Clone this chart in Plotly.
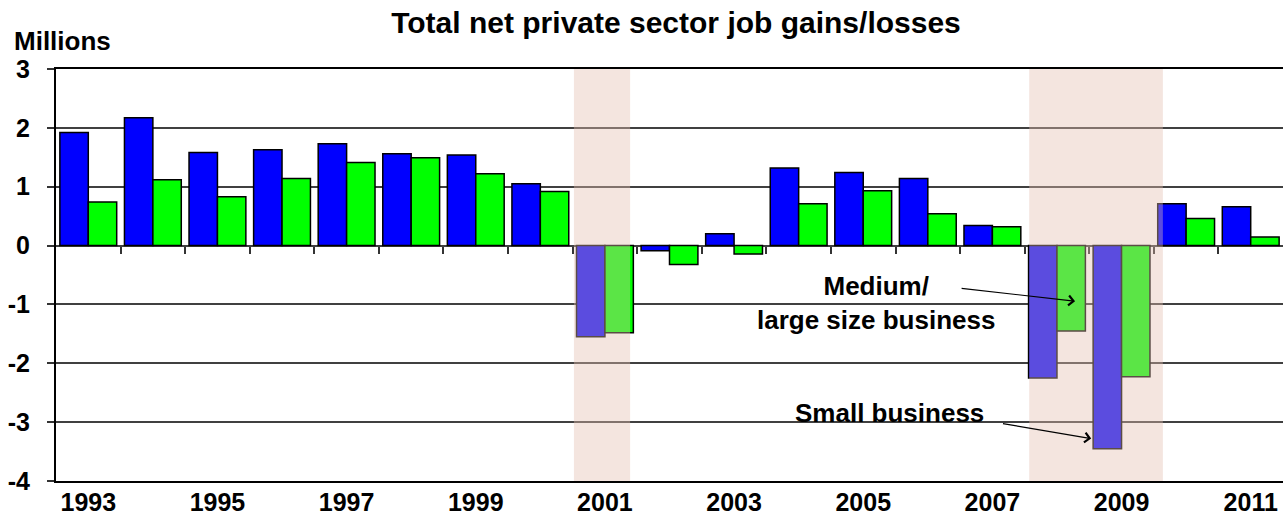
import plotly.graph_objects as go

# Net private sector job gains/losses, millions
years = list(range(1993, 2012))
small_business = [1.92, 2.17, 1.58, 1.63, 1.73, 1.56, 1.54, 1.05, -1.55, -0.09,
                  0.20, 1.32, 1.24, 1.14, 0.34, -2.25, -3.45, 0.71, 0.66]
medium_large = [0.74, 1.12, 0.83, 1.14, 1.41, 1.49, 1.22, 0.92, -1.48, -0.32,
                -0.145, 0.71, 0.93, 0.54, 0.32, -1.45, -2.23, 0.46, 0.145]

# Recession bands, in category-index units
recessions = [(7.52, 8.39), (14.57, 16.64)]

tick_years = [y for y in years if (y - 1993) % 2 == 0]
y_ticks = list(range(-4, 4))
y_ticktext = [str(v) for v in y_ticks]  # plain hyphen for negatives

FONT = "Liberation Sans, Arial, sans-serif"
idx = list(range(len(years)))

fig = go.Figure()
fig.add_trace(go.Bar(
    x=idx, y=small_business, name="Small business",
    marker=dict(color="#0000ff", line=dict(color="#000000", width=1.5)),
))
fig.add_trace(go.Bar(
    x=idx, y=medium_large, name="Medium/large size business",
    marker=dict(color="#00ff00", line=dict(color="#000000", width=1.5)),
))
# helper trace so the zero-line tick axis is drawn
fig.add_trace(go.Scatter(x=[0], y=[0], xaxis="x2", mode="markers",
                         marker=dict(opacity=0), hoverinfo="skip", showlegend=False))

for x0, x1 in recessions:
    fig.add_shape(type="rect", xref="x", yref="y", x0=x0, x1=x1, y0=-4, y1=3,
                  fillcolor="rgb(228,190,175)", opacity=0.4, line=dict(width=0),
                  layer="above")

ann_font = dict(family=FONT, size=26, color="#000000", weight="bold")
fig.add_annotation(x=12.2, y=-0.98, xref="x", yref="y", showarrow=False,
                   text="Medium/<br>large size business", font=ann_font, align="center")
fig.add_annotation(x=12.4, y=-2.84, xref="x", yref="y", showarrow=False,
                   text="Small business", font=ann_font)
fig.add_annotation(x=15.28, y=-0.945, ax=13.5, ay=-0.724, xref="x", yref="y",
                   axref="x", ayref="y", text="", showarrow=True, arrowhead=4,
                   arrowsize=1.6, arrowwidth=1.2, arrowcolor="#000000")
fig.add_annotation(x=15.53, y=-3.28, ax=14.14, ay=-3.02, xref="x", yref="y",
                   axref="x", ayref="y", text="", showarrow=True, arrowhead=4,
                   arrowsize=1.6, arrowwidth=1.2, arrowcolor="#000000")
fig.add_annotation(x=-0.036, y=1.068, xref="paper", yref="paper", showarrow=False,
                   text="Millions", font=dict(family=FONT, size=26, color="#000000", weight="bold"),
                   xanchor="left", yanchor="middle")

fig.update_layout(
    width=1283, height=519,
    margin=dict(l=56, r=0, t=69, b=38),
    paper_bgcolor="#ffffff", plot_bgcolor="#ffffff",
    barmode="group", bargap=0.12, bargroupgap=0,
    showlegend=False,
    font=dict(family=FONT, color="#000000"),
    title=dict(text="Total net private sector job gains/losses",
               font=dict(family=FONT, size=30, color="#000000", weight="bold"),
               x=676 / 1283, xanchor="center", y=1 - 22 / 519, yanchor="middle",
               xref="container", yref="container"),
    xaxis=dict(
        range=[-0.5, len(years) - 0.5],
        tickmode="array",
        tickvals=[y - 1993 for y in tick_years],
        ticktext=[str(y) for y in tick_years],
        ticks="", showgrid=False, zeroline=False,
        showline=True, linecolor="#000000", linewidth=2, mirror=True,
        tickfont=dict(family=FONT, size=25, color="#000000", weight="bold"),
        ticklabelstandoff=-2,
        automargin=False,
    ),
    xaxis2=dict(
        overlaying="x", anchor="free", position=4 / 7, side="bottom",
        range=[-0.5, len(years) - 0.5],
        tickmode="array",
        tickvals=[k + 0.5 for k in range(len(years) - 1)],
        ticks="outside", ticklen=7, tickwidth=1.5, tickcolor="#333333",
        showticklabels=False, showgrid=False, zeroline=False, showline=False,
    ),
    yaxis=dict(
        range=[-4, 3], tickmode="array", tickvals=y_ticks, ticktext=y_ticktext,
        ticks="outside", ticklen=7, tickwidth=1.5, tickcolor="#333333",
        showgrid=True, gridcolor="#404040", gridwidth=1.5,
        zeroline=True, zerolinecolor="#404040", zerolinewidth=1.5,
        showline=True, linecolor="#000000", linewidth=2,
        tickfont=dict(family=FONT, size=25, color="#000000", weight="bold"),
        ticklabelstandoff=12,
        automargin=False,
    ),
)

fig.write_html("out.html")
